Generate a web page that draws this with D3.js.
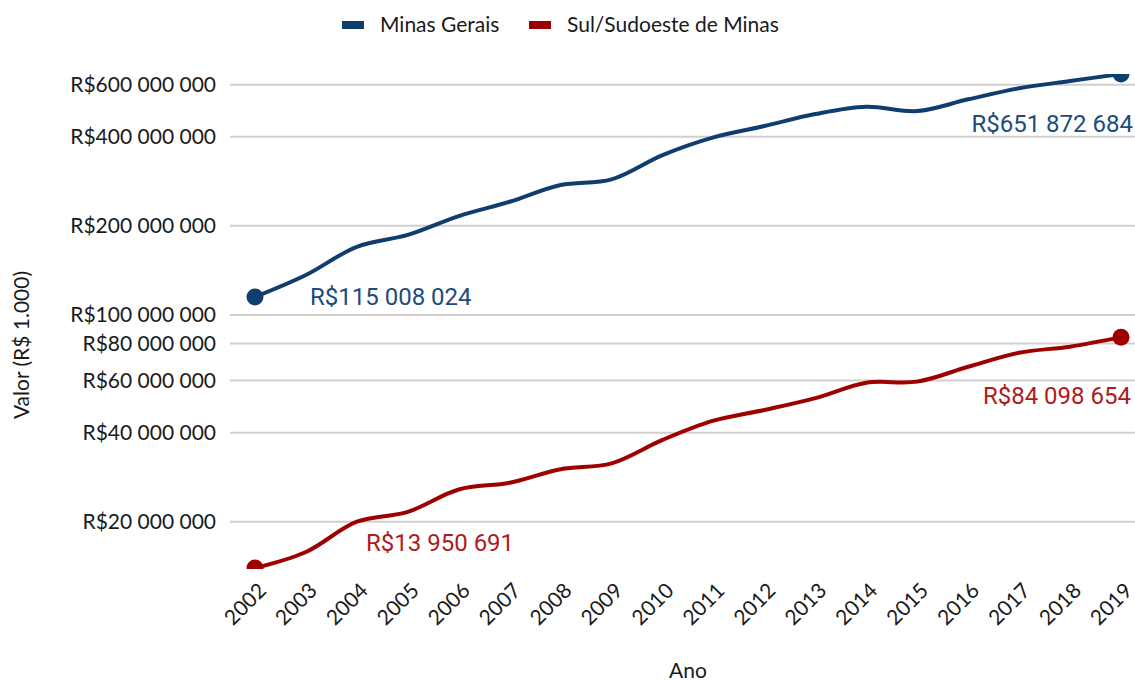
<!DOCTYPE html>
<html>
<head>
<meta charset="utf-8">
<script src="https://cdn.jsdelivr.net/npm/d3@7"></script>
<style>
  body { margin: 0; background: #fff; }
  svg text { font-family: Lato, "Open Sans", sans-serif; }
  svg text.valor { font-family: Roboto, sans-serif; }
</style>
</head>
<body>
<div id="container"></div>
<script>
const years = [2002, 2003, 2004, 2005, 2006, 2007, 2008, 2009, 2010, 2011, 2012, 2013, 2014, 2015, 2016, 2017, 2018, 2019]

// valores (R$)
const minasGerais = [115008024, 136400000, 169900000, 186300000, 215800000, 241200000, 274800000, 287200000, 346900000,
    398300000, 434900000, 477400000, 505300000, 488700000, 535300000, 583200000, 617200000, 651872684]
const sulSudoeste = [13950691, 15800000, 20000000, 21600000, 25700000, 27100000, 30100000, 31500000, 37800000,
    43900000, 47700000, 52300000, 59000000, 59500000, 66800000, 74500000, 78100000, 84098654]

const seriesNames = ['Minas Gerais', 'Sul/Sudoeste de Minas']
const yTicks = [20000000, 40000000, 60000000, 80000000, 100000000, 200000000, 400000000, 600000000]

const lineColors = ['#0f3d6e', '#9e0000']
const textColors = ['#1d4b7b', '#b01a1a']

const width = 1135
const height = 681
const plotLeft = 230, plotRight = 1135, plotTop = 74, plotBottom = 568

const svg = d3.select('#container').append('svg')
    .attr('width', width)
    .attr('height', height)

const xScale = d3.scalePoint()
    .domain(years)
    .range([255, 1121])

const allValues = minasGerais.concat(sulSudoeste)
const yScale = d3.scaleLog()
    .domain(d3.extent(allValues))
    .range([plotBottom, plotTop])

const br = d3.formatLocale({decimal: ',', thousands: ' ', grouping: [3], currency: ['R$', '']})
const money = br.format('$,.0f')

// grid
svg.append('g')
    .selectAll('line')
    .data(yTicks)
    .enter()
    .append('line')
    .attr('x1', plotLeft)
    .attr('x2', plotRight)
    .attr('y1', d => yScale(d))
    .attr('y2', d => yScale(d))
    .attr('stroke', '#cfcfcf')
    .attr('stroke-width', 2)

const yAxis = d3.axisLeft(yScale).tickValues(yTicks).tickFormat(money).tickSize(0).tickPadding(14)
const gy = svg.append('g')
    .attr('transform', `translate(${plotLeft}, 0)`)
    .call(yAxis)
gy.select('.domain').remove()
gy.selectAll('text')
    .attr('font-size', 21)
    .attr('fill', '#1a1a1a')

const xAxis = d3.axisBottom(xScale).tickSize(0).tickFormat(d3.format('d'))
const gx = svg.append('g')
    .attr('transform', `translate(0, ${plotBottom})`)
    .call(xAxis)
gx.select('.domain').remove()
gx.selectAll('text')
    .attr('font-size', 21)
    .attr('fill', '#1a1a1a')
    .attr('text-anchor', 'end')
    .attr('dy', 0)
    .attr('y', 0)
    .attr('transform', 'translate(12, 24) rotate(-45)')

svg.append('text')
    .attr('x', 688)
    .attr('y', 678)
    .attr('text-anchor', 'middle')
    .attr('font-size', 21)
    .attr('fill', '#1a1a1a')
    .text('Ano')

svg.append('text')
    .attr('transform', 'translate(29, 345) rotate(-90)')
    .attr('text-anchor', 'middle')
    .attr('font-size', 21)
    .attr('fill', '#1a1a1a')
    .text('Valor (R$ 1.000)')

// clip so end markers get cut like the original
svg.append('clipPath')
    .attr('id', 'plot')
    .append('rect')
    .attr('x', 0)
    .attr('y', plotTop)
    .attr('width', width)
    .attr('height', plotBottom - plotTop + 1)

const line = d3.line()
    .x((d, i) => xScale(years[i]))
    .y(d => yScale(d))
    .curve(d3.curveCatmullRom.alpha(0.5))

const series = [minasGerais, sulSudoeste]
const plot = svg.append('g').attr('clip-path', 'url(#plot)')

series.forEach((s, k) => {
    plot.append('path')
        .datum(s)
        .attr('d', line)
        .attr('fill', 'none')
        .attr('stroke', lineColors[k])
        .attr('stroke-width', 4)

    plot.selectAll(null)
        .data([0, s.length - 1])
        .enter()
        .append('circle')
        .attr('cx', i => xScale(years[i]))
        .attr('cy', i => yScale(s[i]))
        .attr('r', 8.5)
        .attr('fill', lineColors[k])
})

// labels for first and last values
const labels = [
    {s: 0, i: 0, dx: 55, dy: 8, anchor: 'start'},
    {s: 0, i: years.length - 1, dx: 12, dy: 58, anchor: 'end'},
    {s: 1, i: 0, dx: 111, dy: -17, anchor: 'start'},
    {s: 1, i: years.length - 1, dx: 10, dy: 67, anchor: 'end'}
]
svg.selectAll('.valor')
    .data(labels)
    .enter()
    .append('text')
    .attr('class', 'valor')
    .attr('x', d => xScale(years[d.i]) + d.dx)
    .attr('y', d => yScale(series[d.s][d.i]) + d.dy)
    .attr('text-anchor', d => d.anchor)
    .attr('font-size', 24)
    .attr('fill', d => textColors[d.s])
    .text(d => money(series[d.s][d.i]))

// legend
const legendX = [342, 529]
const lg = svg.selectAll('.leg')
    .data(seriesNames)
    .enter()
    .append('g')
    .attr('transform', (d, i) => `translate(${legendX[i]}, 0)`)
lg.append('rect')
    .attr('x', 0)
    .attr('y', 21)
    .attr('width', 22)
    .attr('height', 8)
    .attr('fill', (d, i) => lineColors[i])
lg.append('text')
    .attr('x', 38)
    .attr('y', 32)
    .attr('font-size', 21)
    .attr('fill', '#1a1a1a')
    .text(d => d)
</script>
</body>
</html>
